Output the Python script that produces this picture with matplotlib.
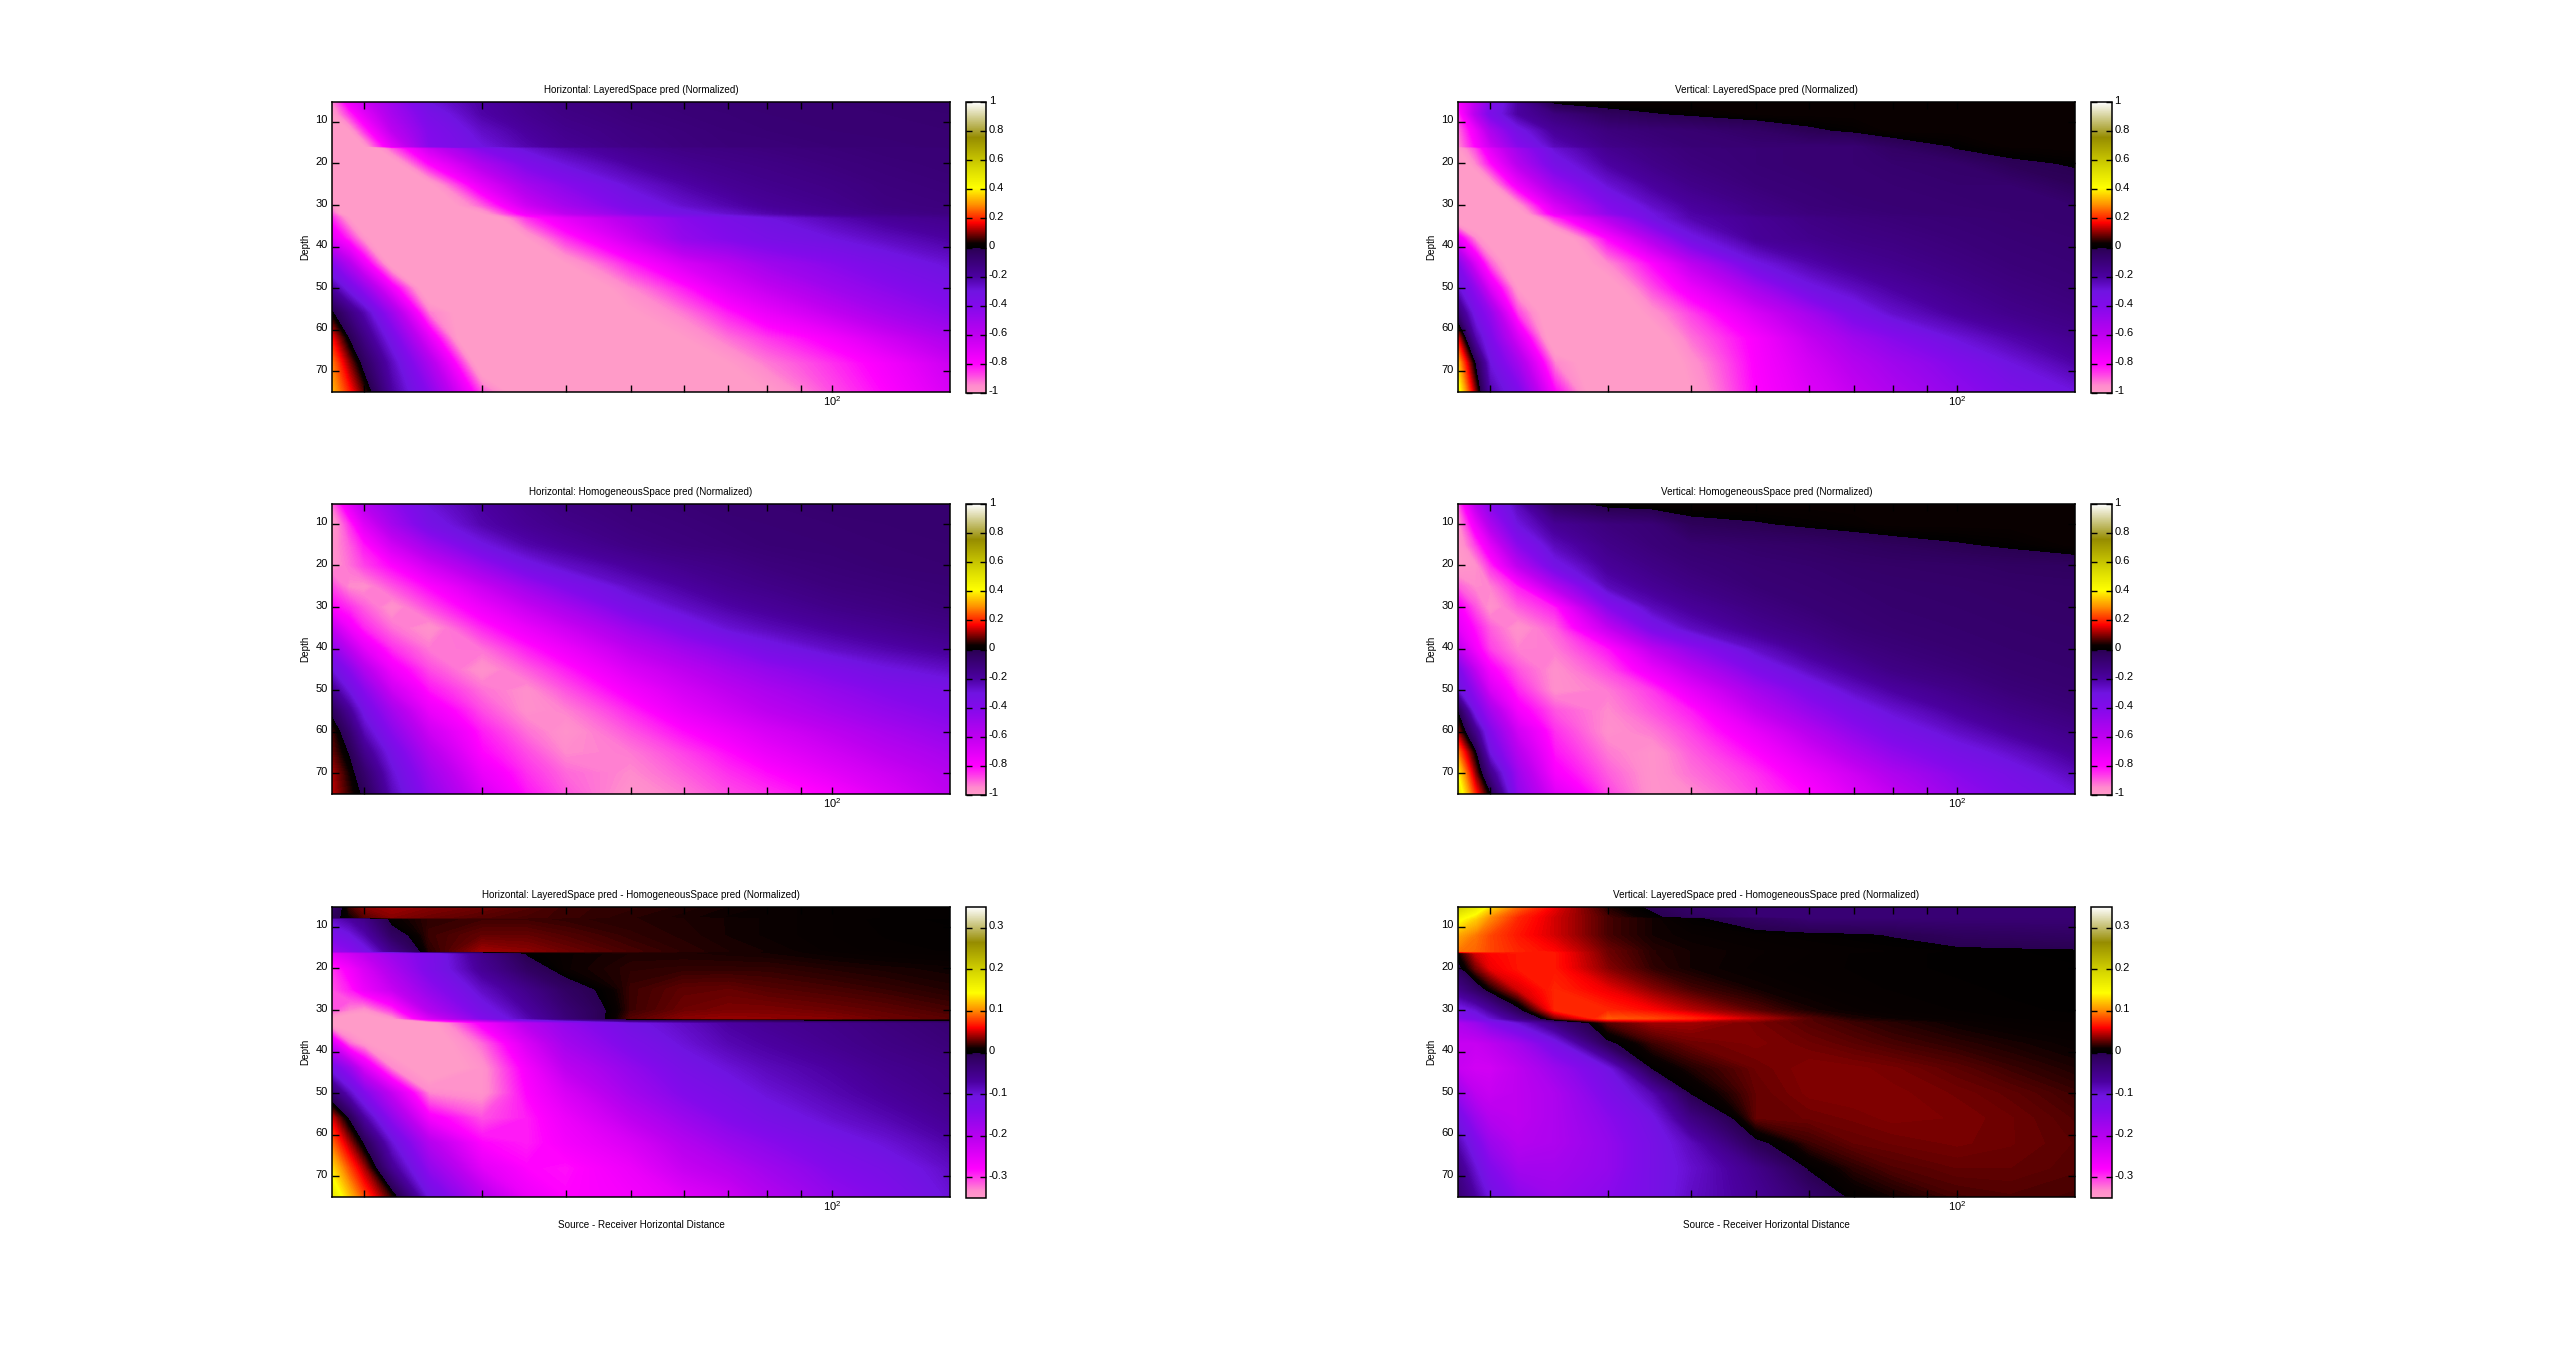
import numpy as np
import matplotlib
matplotlib.use('Agg')
import matplotlib.pyplot as plt
from matplotlib.colors import LinearSegmentedColormap, Normalize
from matplotlib.cm import ScalarMappable
from matplotlib.ticker import FixedLocator, NullFormatter, FixedFormatter
from matplotlib.transforms import ScaledTranslation

plt.rcParams['font.family'] = ['Liberation Sans', 'DejaVu Sans']

distance = [17.9, 19, 20, 22, 25, 30, 35, 40, 50, 60, 70, 80, 100, 120, 150]

depth_layered = [5.2, 8, 12, 15.8, 16.3, 20, 25, 30, 32, 33, 38, 44, 50, 56, 62, 68, 75]
depth_homog = [5.2, 10, 15, 20, 25, 30, 35, 40, 45, 50, 55, 60, 65, 70, 75]
depth_diff = [5.2, 7.7, 8.0, 12, 15.8, 16.3, 20, 25, 30, 32, 33, 38, 44, 50, 56, 62, 68, 75]

h_layered = [
 [-.95,-.75,-.65,-.5,-.3,-.2,-.15,-.12,-.1,-.09,-.085,-.08,-.08,-.075,-.07],
 [-1.0,-.85,-.72,-.53,-.35,-.21,-.16,-.13,-.105,-.095,-.09,-.085,-.08,-.08,-.075],
 [-1.1,-1.0,-.85,-.6,-.4,-.26,-.19,-.15,-.12,-.105,-.095,-.09,-.085,-.08,-.08],
 [-1.1,-1.1,-1.0,-.72,-.42,-.3,-.22,-.17,-.13,-.11,-.1,-.1,-.09,-.09,-.08],
 [-1.1,-1.1,-1.1,-.9,-.65,-.4,-.28,-.22,-.16,-.13,-.12,-.11,-.1,-.09,-.09],
 [-1.1,-1.1,-1.1,-1.05,-.8,-.55,-.38,-.29,-.2,-.16,-.14,-.13,-.11,-.1,-.09],
 [-1.1,-1.1,-1.1,-1.1,-1.02,-.72,-.52,-.42,-.28,-.21,-.17,-.15,-.13,-.11,-.1],
 [-.97,-1.1,-1.1,-1.1,-1.1,-.9,-.65,-.52,-.36,-.27,-.22,-.18,-.15,-.12,-.11],
 [-.9,-1.1,-1.1,-1.1,-1.1,-1.0,-.75,-.6,-.43,-.33,-.27,-.22,-.17,-.14,-.12],
 [-.85,-1.0,-1.1,-1.1,-1.1,-1.09,-.85,-.72,-.55,-.42,-.35,-.3,-.23,-.18,-.15],
 [-.72,-.85,-.98,-1.1,-1.1,-1.1,-1.0,-.85,-.65,-.46,-.4,-.35,-.3,-.25,-.2],
 [-.42,-.58,-.75,-1.05,-1.1,-1.1,-1.1,-1.0,-.83,-.68,-.59,-.5,-.42,-.35,-.28],
 [-.2,-.34,-.47,-.76,-1.1,-1.1,-1.1,-1.1,-.95,-.83,-.7,-.62,-.5,-.43,-.35],
 [.01,-.12,-.23,-.5,-.93,-1.1,-1.1,-1.1,-1.01,-.93,-.83,-.74,-.62,-.52,-.43],
 [.17,-.01,-.13,-.35,-.72,-1.28,-1.1,-1.1,-1.1,-1.0,-.92,-.86,-.77,-.66,-.54],
 [.27,.1,-.04,-.25,-.55,-1.09,-1.1,-1.1,-1.1,-1.1,-1.0,-.93,-.85,-.77,-.64],
 [.33,.19,.06,-.2,-.43,-.89,-1.1,-1.1,-1.1,-1.1,-1.1,-1.0,-.88,-.8,-.68],
]

v_layered = [
 [-.8,-.6,-.4,-.2,.015,.03,.03,.03,.03,.03,.03,.03,.03,.03,.03],
 [-.85,-.58,-.37,-.2,-.11,-.03,-.004,.01,.03,.03,.03,.03,.03,.03,.03],
 [-.92,-.75,-.55,-.33,-.18,-.11,-.09,-.08,-.05,-.01,.01,.03,.03,.03,.03],
 [-.95,-.8,-.65,-.42,-.24,-.14,-.11,-.09,-.08,-.08,-.08,-.037,.005,.03,.03],
 [-1.0,-.88,-.72,-.5,-.28,-.16,-.12,-.1,-.09,-.08,-.08,-.05,.002,.02,.03],
 [-1.1,-.95,-.82,-.58,-.34,-.2,-.14,-.11,-.09,-.08,-.08,-.07,-.06,-.012,.005],
 [-1.1,-1.1,-1.0,-.75,-.5,-.28,-.19,-.14,-.1,-.09,-.08,-.08,-.07,-.07,-.02],
 [-1.1,-1.1,-1.1,-.98,-.68,-.4,-.26,-.19,-.13,-.1,-.09,-.085,-.08,-.07,-.07],
 [-1.1,-1.1,-1.1,-1.05,-.75,-.45,-.3,-.21,-.14,-.11,-.1,-.09,-.08,-.08,-.07],
 [-1.1,-1.1,-1.1,-1.1,-.85,-.56,-.31,-.22,-.17,-.13,-.11,-.1,-.09,-.08,-.07],
 [-.75,-.95,-1.05,-1.1,-1.1,-.8,-.55,-.32,-.18,-.15,-.13,-.12,-.1,-.09,-.08],
 [-.42,-.7,-.9,-1.1,-1.1,-.95,-.8,-.6,-.31,-.22,-.17,-.15,-.12,-.1,-.09],
 [-.28,-.46,-.7,-1.0,-1.1,-1.05,-.88,-.75,-.52,-.32,-.25,-.2,-.15,-.12,-.1],
 [-.1,-.34,-.47,-.87,-1.1,-1.1,-.97,-.87,-.68,-.52,-.36,-.27,-.19,-.15,-.12],
 [.15,-.22,-.38,-.68,-1.1,-1.1,-1.05,-.92,-.78,-.62,-.5,-.42,-.29,-.22,-.16],
 [.33,-.01,-.3,-.52,-.94,-1.1,-1.1,-.97,-.79,-.67,-.57,-.5,-.4,-.3,-.21],
 [.45,.1,-.22,-.38,-.8,-1.15,-1.1,-1.0,-.8,-.7,-.62,-.55,-.45,-.37,-.3],
]

h_homog = [
 [-.92,-.72,-.58,-.45,-.29,-.2,-.15,-.12,-.1,-.09,-.08,-.08,-.07,-.07,-.07],
 [-1.0,-.85,-.7,-.52,-.34,-.22,-.17,-.14,-.11,-.1,-.09,-.085,-.08,-.075,-.07],
 [-.97,-.9,-.82,-.66,-.5,-.31,-.22,-.18,-.13,-.11,-.1,-.09,-.085,-.08,-.075],
 [-.97,-.92,-.87,-.8,-.66,-.48,-.33,-.26,-.19,-.15,-.13,-.11,-.095,-.085,-.08],
 [-.88,-.95,-.96,-.89,-.8,-.64,-.5,-.39,-.26,-.2,-.16,-.14,-.11,-.1,-.09],
 [-.8,-.85,-.9,-.97,-.88,-.75,-.63,-.53,-.35,-.26,-.21,-.18,-.14,-.12,-.1],
 [-.62,-.76,-.84,-.92,-.97,-.84,-.74,-.65,-.49,-.37,-.28,-.24,-.19,-.16,-.13],
 [-.45,-.6,-.72,-.85,-.93,-.92,-.83,-.75,-.6,-.5,-.42,-.34,-.26,-.22,-.18],
 [-.3,-.43,-.57,-.76,-.88,-.97,-.9,-.83,-.69,-.6,-.52,-.46,-.38,-.31,-.26],
 [-.17,-.31,-.43,-.65,-.82,-.92,-.96,-.89,-.77,-.67,-.6,-.54,-.46,-.4,-.35],
 [-.03,-.18,-.33,-.52,-.74,-.88,-.96,-.94,-.84,-.73,-.66,-.6,-.52,-.46,-.4],
 [.06,-.08,-.24,-.43,-.65,-.83,-.92,-.97,-.89,-.81,-.74,-.68,-.6,-.53,-.46],
 [.08,-.01,-.15,-.34,-.57,-.8,-.88,-.95,-.93,-.87,-.81,-.74,-.66,-.59,-.52],
 [.12,.03,-.07,-.28,-.5,-.74,-.85,-.91,-.95,-.9,-.85,-.81,-.72,-.65,-.57],
 [.13,.05,-.02,-.24,-.45,-.68,-.82,-.89,-.97,-.93,-.88,-.85,-.79,-.7,-.6],
]

v_homog = [
 [-.9,-.6,-.42,-.24,-.04,.02,.03,.03,.03,.03,.03,.03,.03,.03,.03],
 [-.97,-.75,-.55,-.3,-.17,-.11,-.09,-.02,-.005,.01,.02,.03,.03,.03,.03],
 [-1.0,-.87,-.72,-.43,-.24,-.14,-.1,-.08,-.06,-.05,-.036,-.024,-.005,.008,.03],
 [-1.0,-.97,-.85,-.6,-.33,-.18,-.13,-.1,-.08,-.07,-.06,-.055,-.05,-.04,-.035],
 [-.9,-.95,-.94,-.83,-.57,-.24,-.17,-.13,-.09,-.08,-.07,-.065,-.06,-.055,-.05],
 [-.78,-.89,-.97,-.9,-.83,-.42,-.24,-.18,-.12,-.09,-.08,-.07,-.065,-.06,-.055],
 [-.72,-.82,-.9,-.97,-.9,-.62,-.36,-.25,-.16,-.12,-.09,-.08,-.07,-.065,-.06],
 [-.6,-.77,-.87,-.94,-.93,-.82,-.6,-.45,-.26,-.17,-.12,-.1,-.08,-.07,-.065],
 [-.38,-.62,-.78,-.89,-.96,-.88,-.74,-.6,-.38,-.25,-.18,-.13,-.1,-.08,-.07],
 [-.28,-.47,-.68,-.84,-.96,-.93,-.86,-.73,-.52,-.37,-.26,-.2,-.14,-.1,-.08],
 [-.01,-.35,-.52,-.77,-.89,-.95,-.89,-.83,-.62,-.47,-.36,-.28,-.19,-.14,-.1],
 [.1,-.15,-.4,-.66,-.85,-.96,-.93,-.87,-.73,-.58,-.45,-.36,-.26,-.19,-.14],
 [.27,.01,-.31,-.58,-.82,-.93,-.97,-.9,-.8,-.67,-.55,-.45,-.34,-.27,-.18],
 [.4,.1,-.15,-.5,-.78,-.9,-.97,-.92,-.85,-.75,-.65,-.55,-.42,-.34,-.24],
 [.48,.2,-.0,-.45,-.7,-.87,-.97,-.95,-.87,-.8,-.7,-.62,-.47,-.38,-.3],
]

h_diff = [
 [-.03,.02,.035,.04,.035,.03,.025,.02,.018,.015,.012,.01,.007,.005,.005],
 [-.01,.01,.025,.035,.03,.025,.022,.02,.016,.013,.01,.01,.007,.005,.004],
 [-.09,-.07,-.05,.008,.018,.02,.02,.018,.016,.014,.012,.01,.007,.004,.003],
 [-.13,-.11,-.08,-.015,.02,.028,.028,.024,.018,.015,.012,.01,.007,.005,.004],
 [-.17,-.15,-.12,-.05,.016,.04,.036,.03,.022,.017,.014,.012,.008,.006,.005],
 [-.25,-.23,-.21,-.17,-.13,-.05,.002,.01,.014,.014,.013,.012,.009,.007,.006],
 [-.3,-.27,-.24,-.19,-.13,-.06,-.015,.01,.017,.018,.018,.018,.015,.013,.011],
 [-.31,-.29,-.26,-.22,-.16,-.09,-.05,-.015,.02,.027,.028,.025,.022,.019,.015],
 [-.31,-.33,-.34,-.3,-.2,-.12,-.07,-.03,.02,.03,.033,.033,.03,.027,.022],
 [-.35,-.37,-.37,-.34,-.24,-.14,-.08,-.035,.025,.036,.038,.037,.035,.03,.026],
 [-.37,-.37,-.37,-.37,-.36,-.27,-.2,-.16,-.11,-.09,-.07,-.06,-.05,-.04,-.03],
 [-.24,-.32,-.345,-.37,-.37,-.32,-.24,-.18,-.13,-.1,-.08,-.07,-.055,-.045,-.035],
 [-.12,-.17,-.24,-.33,-.37,-.34,-.27,-.21,-.16,-.12,-.1,-.085,-.07,-.055,-.045],
 [-.03,-.09,-.14,-.22,-.33,-.34,-.28,-.24,-.18,-.14,-.12,-.1,-.08,-.065,-.05],
 [.05,-.005,-.07,-.16,-.27,-.31,-.29,-.26,-.21,-.17,-.14,-.12,-.095,-.08,-.06],
 [.09,.04,-.005,-.1,-.2,-.28,-.29,-.27,-.24,-.2,-.17,-.15,-.12,-.1,-.075],
 [.13,.08,.04,-.06,-.16,-.25,-.28,-.285,-.26,-.22,-.2,-.175,-.14,-.12,-.09],
 [.17,.12,.08,.015,-.11,-.2,-.26,-.28,-.27,-.25,-.23,-.2,-.16,-.14,-.1],
]

v_diff = [
 [.2,.17,.13,.09,.055,.015,-.005,-.02,-.03,-.03,-.03,-.03,-.03,-.03,-.03],
 [.155,.13,.1,.07,.05,.022,.004,-.012,-.03,-.03,-.03,-.03,-.03,-.03,-.03],
 [.15,.125,.1,.07,.05,.022,.012,.003,-.015,-.03,-.03,-.03,-.03,-.03,-.03],
 [.11,.095,.08,.065,.05,.022,.012,.009,.006,.004,.002,-.001,-.01,-.012,-.015],
 [.095,.09,.08,.07,.06,.03,.016,.012,.009,.007,.006,.005,.003,.002,.001],
 [.01,.05,.06,.065,.065,.03,.016,.012,.009,.007,.005,.004,.003,.002,.001],
 [-.01,.03,.055,.065,.065,.035,.018,.012,.008,.006,.005,.004,.003,.002,.002],
 [-.05,-.02,.01,.05,.07,.055,.035,.022,.012,.008,.006,.005,.004,.003,.002],
 [-.12,-.1,-.07,-.01,.07,.07,.06,.045,.025,.013,.009,.007,.005,.004,.003],
 [-.15,-.13,-.1,-.05,.03,.085,.08,.07,.045,.025,.014,.01,.007,.005,.004],
 [-.19,-.17,-.14,-.1,-.04,.025,.04,.04,.032,.025,.02,.016,.01,.007,.005],
 [-.22,-.22,-.21,-.18,-.12,-.005,.02,.03,.034,.03,.026,.022,.017,.013,.009],
 [-.22,-.23,-.23,-.21,-.17,-.11,.001,.015,.03,.035,.034,.032,.026,.02,.014],
 [-.17,-.21,-.22,-.21,-.19,-.13,-.08,.001,.028,.034,.035,.034,.031,.027,.02],
 [-.12,-.17,-.2,-.21,-.19,-.15,-.11,-.045,.028,.03,.032,.034,.033,.03,.024],
 [-.08,-.13,-.17,-.2,-.19,-.16,-.12,-.085,-.006,.02,.028,.03,.032,.03,.026],
 [-.05,-.1,-.14,-.18,-.18,-.16,-.12,-.095,-.05,.002,.017,.024,.028,.028,.025],
 [-.03,-.07,-.11,-.15,-.17,-.15,-.12,-.09,-.06,-.025,.005,.012,.022,.024,.022],
]

titles = [
 'Horizontal: LayeredSpace pred (Normalized)', 'Vertical: LayeredSpace pred (Normalized)',
 'Horizontal: HomogeneousSpace pred (Normalized)', 'Vertical: HomogeneousSpace pred (Normalized)',
 'Horizontal: LayeredSpace pred - HomogeneousSpace pred (Normalized)',
 'Vertical: LayeredSpace pred - HomogeneousSpace pred (Normalized)',
]
ylabel_text = 'Depth'
xlabel_text = 'Source - Receiver Horizontal Distance'
depth_ticks = [10, 20, 30, 40, 50, 60, 70]
distance_major = [100]
distance_minor = [20, 30, 40, 50, 60, 70, 80, 90]
full_ticks = [1, .8, .6, .4, .2, 0, -.2, -.4, -.6, -.8, -1]
full_labels = ['1', '0.8', '0.6', '0.4', '0.2', '0', '-0.2', '-0.4', '-0.6', '-0.8', '-1']
diff_ticks = [.3, .2, .1, 0, -.1, -.2, -.3]
diff_labels = ['0.3', '0.2', '0.1', '0', '-0.1', '-0.2', '-0.3']

W, H = 2556, 1345
cmap_stops = [
 (-1.0, (255,155,200)), (-.95, (255,140,205)), (-.8, (255,0,255)), (-.6, (190,0,240)),
 (-.4, (130,10,235)), (-.3, (112,20,225)), (-.2, (75,0,160)), (-.0001, (42,0,82)),
 (0.0, (0,0,0)), (.03, (10,0,0)), (.17, (255,0,0)), (.3, (255,150,0)), (.41, (255,255,0)),
 (.55, (215,215,0)), (.757, (150,140,0)), (1.0, (255,255,255)),
]
cmap = LinearSegmentedColormap.from_list(
    'wave', [((v + 1) / 2, tuple(c / 255 for c in rgb)) for v, rgb in cmap_stops], N=1024)
cmap.set_under((255/255, 155/255, 200/255))
cmap.set_over('white')

fig = plt.figure(figsize=(W / 100, H / 100), dpi=100, facecolor='white')

def box(l, t, r, b):
    return [l / W, 1 - b / H, (r - l) / W, (b - t) / H]

rows = [(102, 392), (504, 794), (907, 1197)]
cols = [(332, 950, 965.5, 986), (1458, 2075, 2091, 2111.5)]
panels = [
 (h_layered, depth_layered, 1.0), (v_layered, depth_layered, 1.0),
 (h_homog, depth_homog, 1.0), (v_homog, depth_homog, 1.0),
 (h_diff, depth_diff, .35), (v_diff, depth_diff, .35),
]
lift = ScaledTranslation(0, 2.5 / 100, fig.dpi_scale_trans)

for i, (vals, depth, lim) in enumerate(panels):
    r, c = i // 2, i % 2
    t, b = rows[r]
    l, rr, cl, cr = cols[c]
    ax = fig.add_axes(box(l, t, rr, b))
    levels = np.linspace(-lim, lim, 401)
    norm = Normalize(-lim, lim)
    ax.contourf(distance, depth, np.array(vals), levels=levels, cmap=cmap, norm=norm,
                extend='both', antialiased=False)
    ax.set_xscale('log')
    ax.set_xlim(17.9, 150)
    ax.set_ylim(75, 5.2)
    ax.xaxis.set_major_locator(FixedLocator(distance_major))
    ax.xaxis.set_major_formatter(FixedFormatter([r'$\mathregular{10^{2}}$']))
    ax.xaxis.set_minor_locator(FixedLocator(distance_minor))
    ax.xaxis.set_minor_formatter(NullFormatter())
    ax.set_yticks(depth_ticks)
    ax.set_yticklabels([str(d) for d in depth_ticks])
    ax.tick_params(which='both', direction='in', top=True, right=True, length=5, width=1,
                   labelsize=8, pad=3)
    ax.tick_params(axis='x', pad=1.5)
    for lab in ax.get_yticklabels():
        lab.set_transform(lab.get_transform() + lift)
    for s in ax.spines.values():
        s.set_linewidth(1.1)
    ax.set_title(titles[i], fontsize=7.15, pad=6.5)
    ax.set_ylabel(ylabel_text, fontsize=7.15, labelpad=3.5)
    if r == 2:
        ax.set_xlabel(xlabel_text, fontsize=7.15, labelpad=5)

    cax = fig.add_axes(box(cl, t, cr, b + 1))
    cb = fig.colorbar(ScalarMappable(norm=norm, cmap=cmap), cax=cax)
    tk, lb = (full_ticks, full_labels) if lim == 1.0 else (diff_ticks, diff_labels)
    cb.set_ticks(tk, labels=lb)
    cb.minorticks_off()
    cax.tick_params(direction='in', left=True, right=True, length=4, width=1, labelsize=8, pad=2)
    for lab in cax.get_yticklabels():
        lab.set_transform(lab.get_transform() + lift)
    cb.outline.set_linewidth(1.1)

fig.savefig('out.png', dpi=100)
